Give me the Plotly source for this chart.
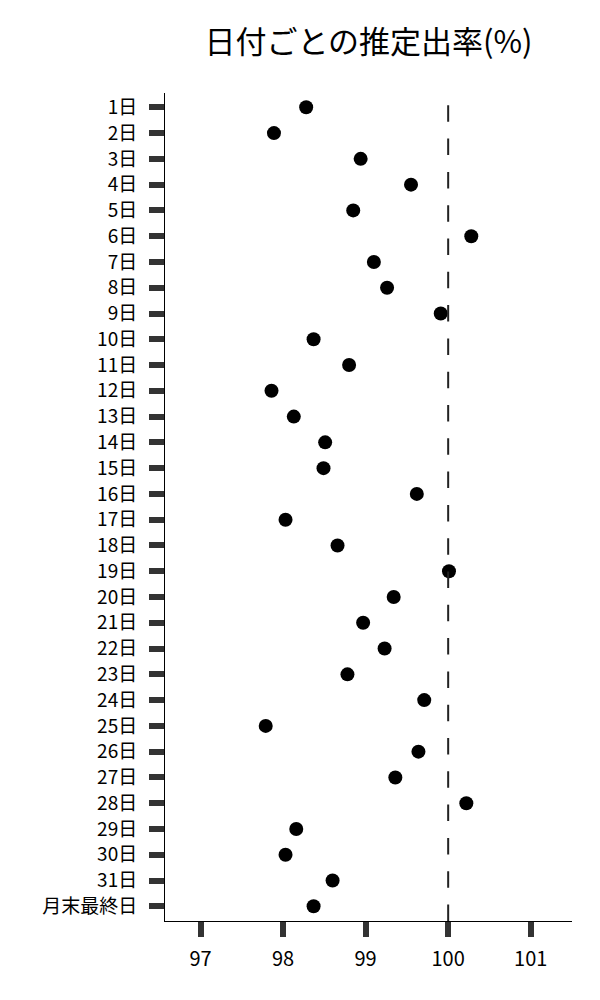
import plotly.graph_objects as go

# =========================
# DATOS
# =========================
days = [f"{d}日" for d in range(1, 32)] + ["月末最終日"]

rate = [
    98.28, 97.89, 98.94, 99.55, 98.85, 100.28, 99.10, 99.26, 99.91, 98.37,
    98.80, 97.86, 98.13, 98.51, 98.49, 99.62, 98.03, 98.66, 100.01, 99.34,
    98.97, 99.23, 98.78, 99.71, 97.79, 99.64, 99.36, 100.22, 98.16, 98.03,
    98.60, 98.37,
]

x_ticks = [97, 98, 99, 100, 101]
ref_value = 100

font_family = "Noto Sans CJK JP"

# =========================
# FIGURA
# =========================
fig = go.Figure(
    go.Scatter(
        x=rate,
        y=days,
        mode="markers",
        marker=dict(color="black", size=14),
        hovertemplate="%{y}: %{x:.2f}%<extra></extra>",
    )
)

# línea de referencia (100%)
fig.add_shape(
    type="line",
    x0=ref_value, x1=ref_value,
    xref="x", yref="paper",
    y0=0, y1=1,
    line=dict(color="#222222", width=2, dash="16.5px,16.8px"),
)

# la página añade 8px de margen, así que se compensa aquí
fig.update_layout(
    width=600,
    height=1000,
    margin=dict(l=157, r=36, t=85, b=87),
    paper_bgcolor="white",
    plot_bgcolor="white",
    font=dict(family=font_family, color="black"),
    showlegend=False,
    title=dict(
        text="日付ごとの推定出率(%)",
        font=dict(size=31, family=font_family, color="black"),
        x=0.5, xref="paper", xanchor="center",
        y=1 - 34 / 1000, yref="container", yanchor="middle",
    ),
)

fig.update_xaxes(
    range=[96.57, 101.5],
    tickvals=x_ticks,
    ticktext=[str(v) for v in x_ticks],
    showgrid=False,
    zeroline=False,
    showline=True,
    linecolor="black",
    linewidth=1,
    ticks="outside",
    ticklen=15,
    tickwidth=5.5,
    tickcolor="#333333",
    ticklabelstandoff=5,
    tickfont=dict(size=20, family=font_family, color="black"),
)

fig.update_yaxes(
    type="category",
    categoryorder="array",
    categoryarray=days,
    range=[31.57, -0.555],
    showgrid=False,
    zeroline=False,
    showline=True,
    linecolor="black",
    linewidth=1,
    ticks="outside",
    ticklen=15,
    tickwidth=5.5,
    tickcolor="#333333",
    ticklabelstandoff=8,
    tickfont=dict(size=19, family=font_family, color="black"),
)

fig.write_html("out.html")
